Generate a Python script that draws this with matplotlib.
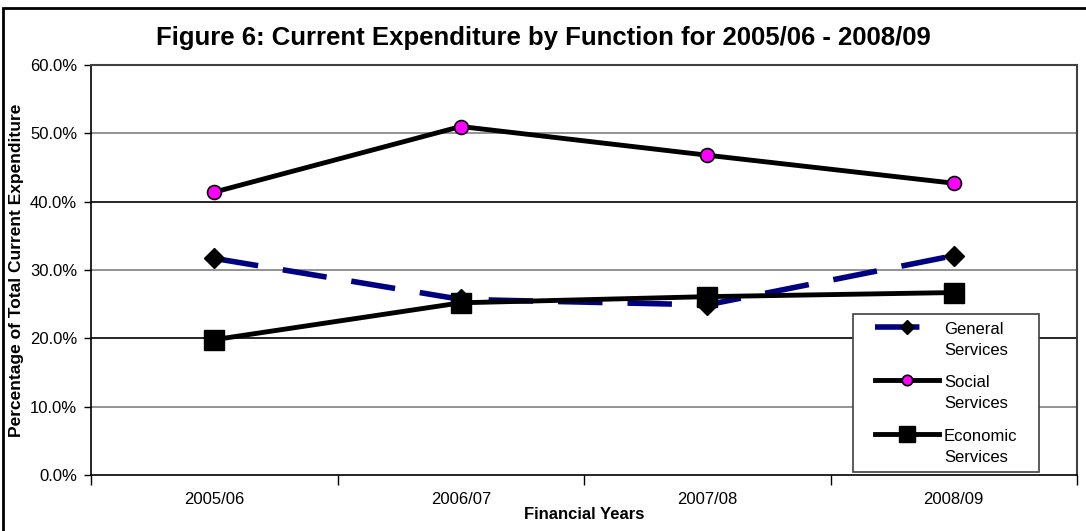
import matplotlib.pyplot as plt
from matplotlib.patches import Rectangle
from matplotlib.ticker import FuncFormatter, FixedLocator
from matplotlib.legend_handler import HandlerLine2D

years = ['2005/06', '2006/07', '2007/08', '2008/09']
general = [31.7, 25.7, 24.9, 32.1]
social = [41.4, 51.0, 46.8, 42.7]
economic = [19.8, 25.2, 26.1, 26.7]

plt.rcParams['font.family'] = ['Liberation Sans', 'DejaVu Sans']


class FirstLineHandler(HandlerLine2D):
    """Legend line that sits on the first line of a two-line label."""

    def get_xdata(self, legend, xdescent, ydescent, width, height, fontsize):
        x0 = -xdescent + width * 0.18
        x1 = -xdescent + width
        return [x0, x1], [(x0 + x1) / 2]

    def create_artists(self, legend, orig_handle, xdescent, ydescent,
                       width, height, fontsize, trans):
        artists = super().create_artists(legend, orig_handle, xdescent, ydescent,
                                         width, height, fontsize, trans)
        for a in artists:
            a.set_ydata([y + 0.78 * fontsize for y in a.get_ydata()])
        return artists


dpi = 100
fig = plt.figure(figsize=(1086 / dpi, 531 / dpi), dpi=dpi)
ax = fig.add_axes([91 / 1086, 56 / 531, 986 / 1086, 410 / 531])

x = range(len(years))

# horizontal gridlines
for v in [10, 20, 30, 40, 50]:
    ax.axhline(v, color='#000000' if v % 20 == 0 else '#808080', lw=1.2, zorder=1)

ax.plot(x, general, color='#000080', lw=4, linestyle=(0, (8, 4.5)),
        marker='D', markersize=10, markerfacecolor='black', markeredgecolor='black',
        label='General\nServices', zorder=3)
ax.plot(x, social, color='black', lw=3.5, marker='o', markersize=10,
        markerfacecolor='#ff00ff', markeredgecolor='black', markeredgewidth=1.2,
        label='Social\nServices', zorder=3)
ax.plot(x, economic, color='black', lw=3.5, marker='s', markersize=15,
        markerfacecolor='black', markeredgecolor='black',
        label='Economic\nServices', zorder=4)

ax.set_xlim(-0.5, len(years) - 0.5)
ax.set_ylim(0, 60)
ax.set_yticks([0, 10, 20, 30, 40, 50, 60])
ax.yaxis.set_major_formatter(FuncFormatter(lambda v, p: f'{v:.1f}%'))
ax.tick_params(axis='y', direction='out', length=5, width=1, labelsize=12, pad=5)

ax.set_xticks(list(x))
ax.set_xticklabels(years)
ax.xaxis.set_minor_locator(FixedLocator([i - 0.5 for i in range(len(years) + 1)]))
ax.tick_params(axis='x', which='major', length=0, labelsize=12, pad=12.5)
ax.tick_params(axis='x', which='minor', direction='out', length=7, width=1)

for side in ['left', 'bottom']:
    ax.spines[side].set_color('black')
    ax.spines[side].set_linewidth(1.2)
for side in ['top', 'right']:
    ax.spines[side].set_color('#404040')
    ax.spines[side].set_linewidth(1.5)

ax.set_xlabel('Financial Years', fontsize=12, fontweight='bold', labelpad=0)
ax.set_ylabel('Percentage of Total Current Expenditure', fontsize=12.5,
              fontweight='bold', labelpad=4)
fig.text(0.5, 0.928, 'Figure 6: Current Expenditure by Function for 2005/06 - 2008/09',
         ha='center', va='center', fontsize=18.5, fontweight='bold')

leg = ax.legend(loc='lower left', bbox_to_anchor=(0.7728, 0.0073, 0.1887, 0.388),
                mode='expand', fontsize=12, frameon=True, fancybox=False,
                edgecolor='#404040', framealpha=1, handlelength=4.7,
                handletextpad=0.3, labelspacing=1.05, borderpad=0.45,
                borderaxespad=0, markerscale=0.75,
                handler_map={plt.Line2D: FirstLineHandler()})
leg.get_frame().set_linewidth(1.2)
for t in leg.get_texts():
    t.set_linespacing(1.5)

# outer chart frame
fig.patches.append(Rectangle((3 / 1086, -0.01), 1.02, 523 / 531 + 0.01,
                             transform=fig.transFigure, fill=False,
                             edgecolor='black', lw=2, zorder=0))

fig.savefig('out.png', dpi=dpi)
